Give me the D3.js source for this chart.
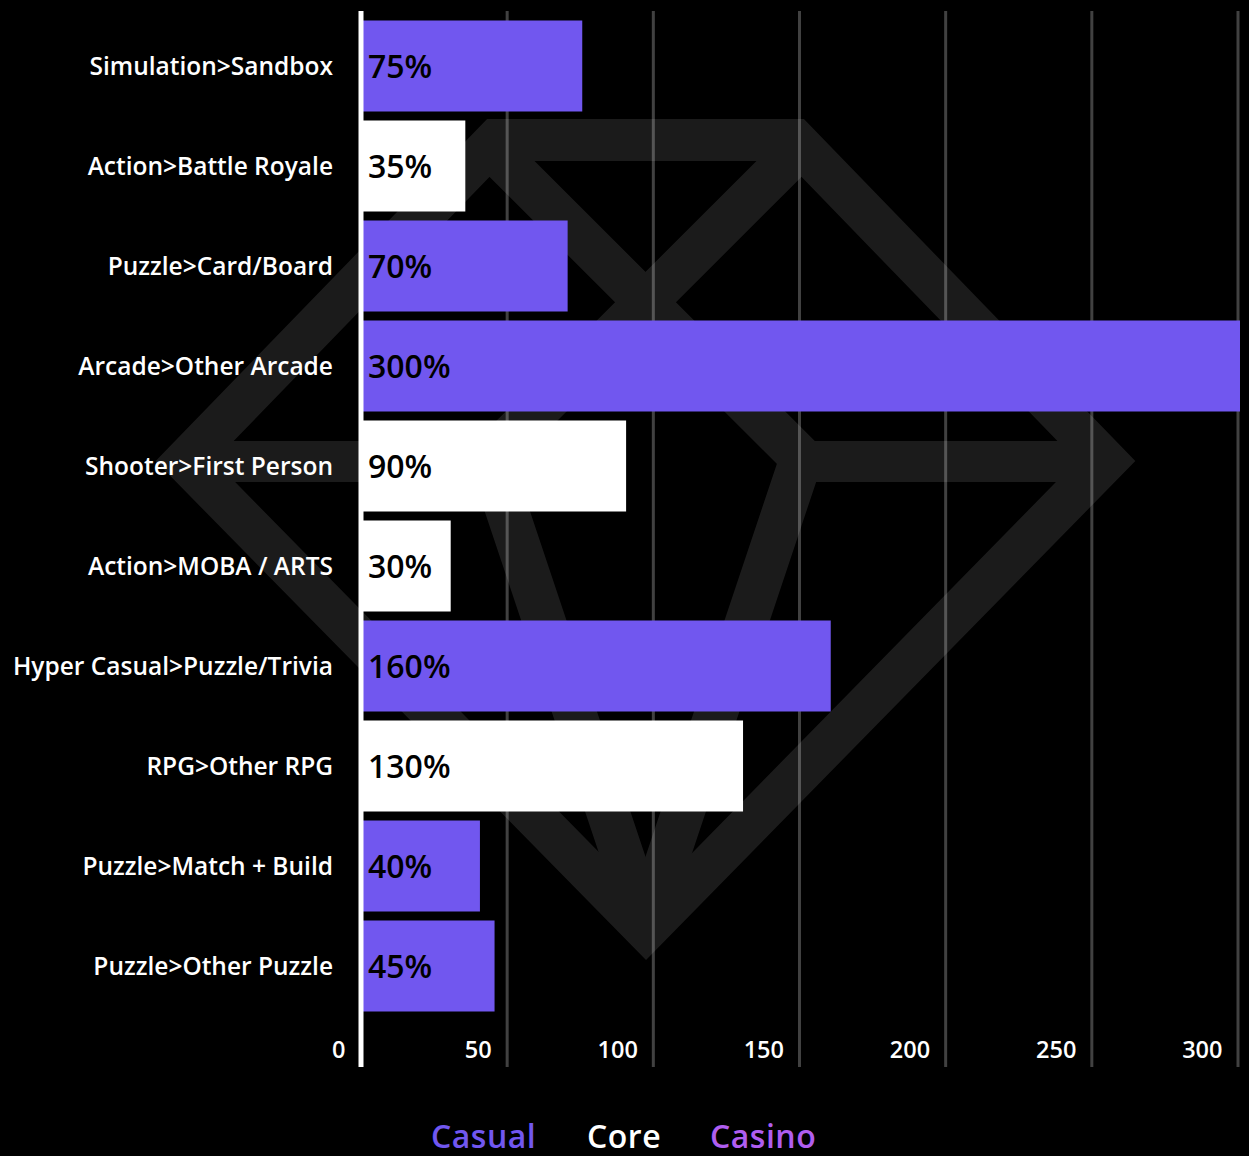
<!DOCTYPE html>
<html>
<head>
<meta charset="utf-8">
<script src="https://cdn.jsdelivr.net/npm/d3@7"></script>
<style>
  html, body { margin: 0; padding: 0; background: #000; }
  svg { display: block; }
  text { font-family: "Open Sans", Lato, sans-serif; }
</style>
</head>
<body>
<svg id="chart" width="1249" height="1156"></svg>
<script>
// Genre growth by category, bars coloured by segment
const categories = [
  "Simulation>Sandbox",
  "Action>Battle Royale",
  "Puzzle>Card/Board",
  "Arcade>Other Arcade",
  "Shooter>First Person",
  "Action>MOBA / ARTS",
  "Hyper Casual>Puzzle/Trivia",
  "RPG>Other RPG",
  "Puzzle>Match + Build",
  "Puzzle>Other Puzzle"
];
const values = [75, 35, 70, 300, 90, 30, 160, 130, 40, 45];
const segments = ["Casual", "Core", "Casual", "Casual", "Core", "Core", "Casual", "Core", "Casual", "Casual"];
const legendItems = ["Casual", "Core", "Casino"];
const tickValues = [0, 50, 100, 150, 200, 250, 300];

const colors = { Casual: "#7157ef", Core: "#ffffff", Casino: "#b05ef0" };

const svg = d3.select("#chart");
const W = 1249, H = 1156;
svg.append("rect").attr("width", W).attr("height", H).attr("fill", "#000");

const x = d3.scaleLinear().domain([0, 300]).range([361, 1238]);
const y = d3.scaleBand().domain(categories).range([16, 1016]).paddingInner(0.09).paddingOuter(0.045);
const plotTop = 11, plotBottom = 1067;
const barInset = 2; // bars begin just right of the zero line

// vertical gridlines
svg.append("g").selectAll("line")
  .data(tickValues.filter(d => d > 0))
  .join("line")
  .attr("x1", d => x(d)).attr("x2", d => x(d))
  .attr("y1", plotTop).attr("y2", plotBottom)
  .attr("stroke", "#414141").attr("stroke-width", 3);

// diamond emblem in the background
const emblem = svg.append("g").attr("opacity", 0.106)
  .attr("fill", "none").attr("stroke", "#fff").attr("stroke-linejoin", "miter").attr("stroke-miterlimit", 10);
const line = d3.line();
// outer rim
emblem.append("path").attr("stroke-width", 42)
  .attr("d", line([[496, 140], [795, 140], [1106, 461], [646, 930], [185, 461]]) + "Z");
// crossing facets that fold down into the pavilion
emblem.append("path").attr("stroke-width", 43)
  .attr("d", line([[483, 140], [801.5, 458], [652, 905]]));
emblem.append("path").attr("stroke-width", 43)
  .attr("d", line([[808, 140], [489.5, 458], [639, 905]]));
// girdle segments
emblem.append("path").attr("stroke-width", 41)
  .attr("d", line([[185, 461.5], [500, 461.5]]));
emblem.append("path").attr("stroke-width", 41)
  .attr("d", line([[791, 461.5], [1106, 461.5]]));

// bars
svg.append("g").selectAll("rect")
  .data(categories)
  .join("rect")
  .attr("x", x(0) + barInset)
  .attr("y", d => y(d))
  .attr("width", (d, i) => x(values[i]) - x(0))
  .attr("height", y.bandwidth())
  .attr("fill", (d, i) => colors[segments[i]]);

// value labels inside bars
svg.append("g").selectAll("text")
  .data(categories)
  .join("text")
  .attr("x", x(0) + 7)
  .attr("y", d => y(d) + y.bandwidth() / 2)
  .attr("dy", "0.36em")
  .attr("fill", "#000")
  .attr("font-size", 32)
  .attr("font-weight", 600)
  .text((d, i) => values[i] + "%");

// category labels
svg.append("g").selectAll("text")
  .data(categories)
  .join("text")
  .attr("x", 333)
  .attr("y", d => y(d) + y.bandwidth() / 2)
  .attr("dy", "0.36em")
  .attr("text-anchor", "end")
  .attr("fill", "#fff")
  .attr("font-size", 24.5)
  .attr("font-weight", 600)
  .text(d => d);

// zero axis line
svg.append("line")
  .attr("x1", x(0)).attr("x2", x(0))
  .attr("y1", plotTop).attr("y2", plotBottom)
  .attr("stroke", "#fff").attr("stroke-width", 5);

// x tick labels, set just left of each gridline
const xAxis = d3.axisBottom(x).tickValues(tickValues).tickSize(0).tickPadding(0);
const ax = svg.append("g").attr("transform", `translate(0, ${1050})`).call(xAxis);
ax.select(".domain").remove();
ax.selectAll("text")
  .attr("x", -16)
  .attr("dy", "0.36em")
  .attr("y", 0)
  .attr("text-anchor", "end")
  .attr("fill", "#fff")
  .attr("font-size", 23.5)
  .attr("font-weight", 600)
  .style("font-family", "'Open Sans', sans-serif");

// legend
const legendX = [431, 587, 710];
svg.append("g").selectAll("text")
  .data(legendItems)
  .join("text")
  .attr("x", (d, i) => legendX[i])
  .attr("y", 1148)
  .attr("fill", d => colors[d])
  .attr("font-size", 32)
  .attr("font-weight", 600)
  .attr("letter-spacing", 0.5)
  .text(d => d);
</script>
</body>
</html>
